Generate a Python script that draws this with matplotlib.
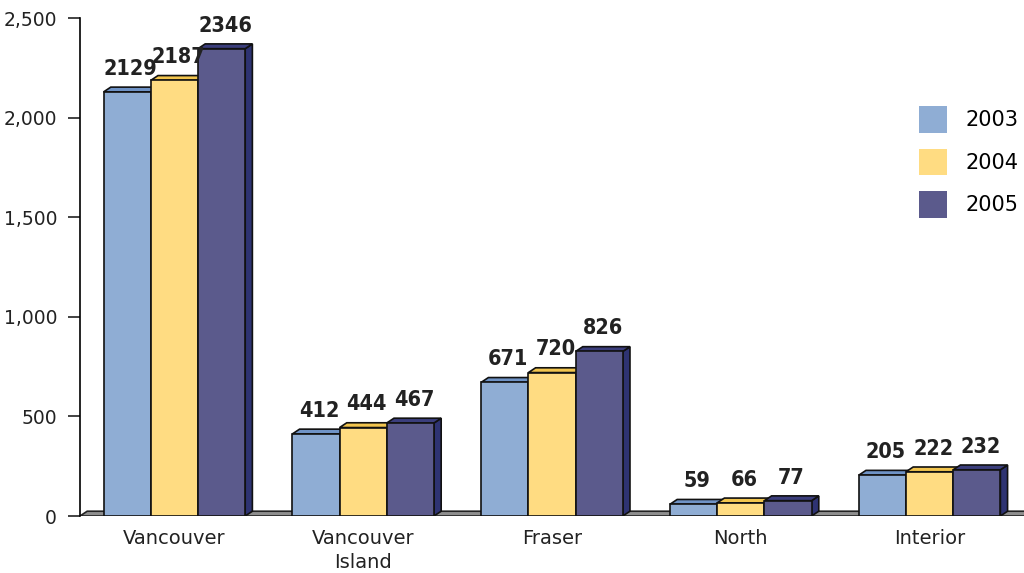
import matplotlib.pyplot as plt
from matplotlib.patches import Polygon, Patch

regions = ["Vancouver", "Vancouver\nIsland", "Fraser", "North", "Interior"]
years = ["2003", "2004", "2005"]
counts_2003 = [2129, 412, 671, 59, 205]
counts_2004 = [2187, 444, 720, 66, 222]
counts_2005 = [2346, 467, 826, 77, 232]

front_colors = ["#8FADD4", "#FFDC82", "#5B5A8C"]
top_colors = ["#6F93C6", "#F2C54E", "#3B3E7C"]
side_colors = ["#5F80B3", "#DDB03A", "#2E3372"]

bar_w = 0.25
dx, dy = 0.038, 24  # fake depth of the 3D boxes (data units)

fig = plt.figure(figsize=(10.24, 5.73), dpi=100)
ax = fig.add_axes([80 / 1024, 57 / 573, 944 / 1024, 498 / 573])
ax.set_xlim(-0.5, 4.5)
ax.set_ylim(0, 2500)


def box(x0, h, i, z):
    x1 = x0 + bar_w
    front = Polygon([(x0, 0), (x1, 0), (x1, h), (x0, h)], closed=True,
                    facecolor=front_colors[i], edgecolor="#111111", lw=1.2, zorder=z)
    top = Polygon([(x0, h), (x1, h), (x1 + dx, h + dy), (x0 + dx, h + dy)], closed=True,
                  facecolor=top_colors[i], edgecolor="#111111", lw=1.2, zorder=z)
    side = Polygon([(x1, 0), (x1 + dx, dy), (x1 + dx, h + dy), (x1, h)], closed=True,
                   facecolor=side_colors[i], edgecolor="#111111", lw=1.2, zorder=z)
    for p in (side, top, front):
        ax.add_patch(p)
    ax.annotate(f"{h}", xy=(x0 + bar_w / 2 + dx / 2, h + dy), xytext=(0, 6),
                textcoords="offset points", ha="center", va="bottom",
                fontsize=15.5, fontweight="bold", fontstretch="condensed",
                family="DejaVu Sans", color="#222222", zorder=10)


# grey floor slab
floor = Polygon([(-0.5, 0), (4.6, 0), (4.6 + dx, dy), (-0.5 + dx, dy)], closed=True,
                facecolor="#8E8E8E", edgecolor="#222222", lw=1.2, zorder=1)
ax.add_patch(floor)

series = [counts_2003, counts_2004, counts_2005]
for g in range(len(regions)):
    for i, vals in enumerate(series):
        x0 = g - 1.5 * bar_w + i * bar_w
        box(x0, vals[g], i, 2 + g * 3 + i)

ax.spines[["top", "right", "bottom"]].set_visible(False)
ax.spines["left"].set_linewidth(1.2)
ax.set_yticks(range(0, 2501, 500))
ax.set_yticklabels([f"{v:,}" for v in range(0, 2501, 500)])
ax.tick_params(axis="y", length=8.5, width=1.2, pad=8, labelsize=13.5, colors="#222222")
ax.set_xticks(range(len(regions)))
ax.set_xticklabels(regions, linespacing=1.4)
ax.tick_params(axis="x", length=0, pad=9, labelsize=14, colors="#222222")

handles = [Patch(facecolor=c, edgecolor="none") for c in front_colors]
ax.legend(handles, years, loc="upper left", bbox_to_anchor=(0.88, 0.84),
          frameon=False, fontsize=15, handlelength=1.35, handleheight=1.6,
          handletextpad=0.9, labelspacing=0.76, borderaxespad=0)

fig.savefig("out.png", dpi=100)
